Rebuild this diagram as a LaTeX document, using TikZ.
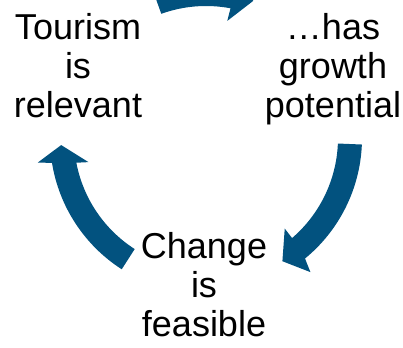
\documentclass[tikz,border=0pt]{standalone}
\usepackage{fontspec}
\setmainfont{Liberation Sans}
\usetikzlibrary{calc}
\definecolor{arrowblue}{HTML}{02527F}
\begin{document}
\begin{tikzpicture}[x=1pt,y=1pt,
  lbl/.style={align=center, inner sep=0pt, anchor=north, font=\fontsize{36}{39}\selectfont},
  cyc/.style={fill=arrowblue, draw=none}]
\useasboundingbox (0,0) rectangle (403,347);
\clip (0,0) rectangle (403,347);
\coordinate (C) at (206,209);
% top arrow (left to right)
\fill[cyc] ($(C)+(109.8:156pt)$) arc[start angle=109.8, end angle=78.0, radius=156pt]
  -- ($(C)+(77.0:170pt)$) -- ($(C)+(71.0:145pt)$) -- ($(C)+(79.7:119pt)$)
  -- ($(C)+(79.3:132pt)$) arc[start angle=79.3, end angle=109.8, radius=132pt] -- cycle;
% right arrow (top to bottom)
\fill[cyc] ($(C)+(-2.4:156pt)$) arc[start angle=-2.4, end angle=-50.6, radius=156pt]
  -- ($(C)+(-52.1:170pt)$) -- ($(C)+(-58.2:145pt)$) -- ($(C)+(-49.0:120pt)$)
  -- ($(C)+(-49.3:132pt)$) arc[start angle=-49.3, end angle=-2.4, radius=132pt] -- cycle;
% left arrow (bottom to top)
\fill[cyc] ($(C)+(237.3:156pt)$) arc[start angle=237.3, end angle=189.2, radius=156pt]
  -- ($(C)+(188.3:170pt)$) -- ($(C)+(182.8:145pt)$) -- ($(C)+(191.6:120pt)$)
  -- ($(C)+(190.8:132pt)$) arc[start angle=190.8, end angle=237.3, radius=132pt] -- cycle;
\node[lbl] (tour) at (78,334) {Tourism\\is\\relevant};
\node[lbl] (grow) at (333,334) {…has\\growth\\potential};
\node[lbl] (chg) at (204,115) {Change\\is\\feasible};
\end{tikzpicture}
\end{document}
